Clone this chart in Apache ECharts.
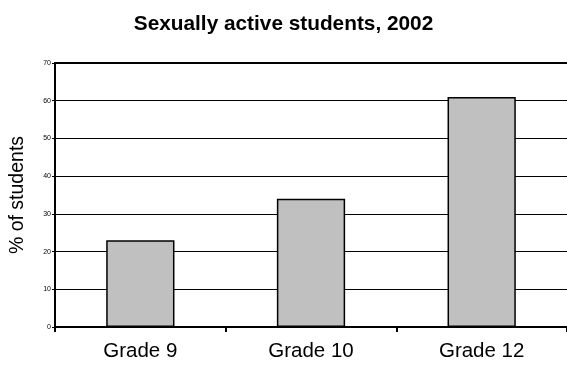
<!DOCTYPE html>
<html>
<head>
<meta charset="utf-8">
<script src="https://cdn.jsdelivr.net/npm/echarts@6/dist/echarts.min.js"></script>
<style>
  html, body { margin: 0; padding: 0; background: #fff; }
  #chart { width: 567px; height: 371px; }
</style>
</head>
<body>
<div id="chart"></div>
<script>
// Share of students reporting sexual activity, by grade
const categories = ['Grade 9', 'Grade 10', 'Grade 12'];
const percentActive = [23, 34, 61];
const yTicks = { min: 0, max: 70, interval: 10 };

const chart = echarts.init(document.getElementById('chart'), null, { renderer: 'canvas' });
const font = 'Arial, "Liberation Sans", sans-serif';

chart.setOption({
  animation: false,
  backgroundColor: '#ffffff',
  title: {
    text: 'Sexually active students, 2002',
    left: 'center',
    top: 9,
    textStyle: { fontFamily: font, fontSize: 20.8, fontWeight: 'bold', color: '#000' }
  },
  grid: { left: 55, right: 0, top: 63, bottom: 44, containLabel: false },
  xAxis: [
    {
      type: 'category',
      data: categories,
      boundaryGap: true,
      axisLine: { show: true, lineStyle: { color: '#000', width: 2 } },
      axisTick: { show: true, alignWithLabel: false, length: 5, lineStyle: { color: '#000', width: 2 } },
      axisLabel: { fontFamily: font, fontSize: 20.5, color: '#000', margin: 14 },
      splitLine: { show: false }
    },
    {
      // top edge of the plot frame
      type: 'category',
      position: 'top',
      data: categories,
      axisLine: { show: true, lineStyle: { color: '#000', width: 2 } },
      axisTick: { show: false },
      axisLabel: { show: false }
    }
  ],
  yAxis: {
    type: 'value',
    min: yTicks.min,
    max: yTicks.max,
    interval: yTicks.interval,
    name: '% of students',
    nameLocation: 'middle',
    nameGap: 27,
    nameTextStyle: { fontFamily: font, fontSize: 19.5, color: '#000' },
    axisLine: { show: true, lineStyle: { color: '#000', width: 2 } },
    axisTick: { show: true, length: 3, lineStyle: { color: '#000', width: 1 } },
    axisLabel: { fontFamily: font, fontSize: 7, color: '#000', margin: 4 },
    splitLine: { show: true, lineStyle: { color: '#000', width: 1 } }
  },
  series: [{
    type: 'bar',
    data: percentActive,
    xAxisIndex: 0,
    barWidth: '40%',
    itemStyle: { color: '#c0c0c0', borderColor: '#000', borderWidth: 1.5 }
  }]
});
</script>
</body>
</html>
